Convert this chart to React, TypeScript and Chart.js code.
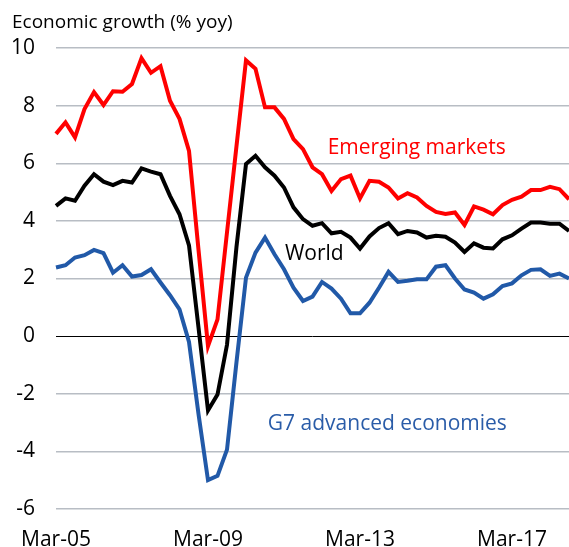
import { useEffect, useRef } from "react";
import { Chart, registerables } from "chart.js";

Chart.register(...registerables);

const FONT = '"Open Sans", "Noto Sans", sans-serif';

const monthNames = ["Mar", "Jun", "Sep", "Dec"];
const startYear = 5;
const quarterCount = 55; // Mar-05 .. Sep-18
const categories: string[] = [];
for (let i = 0; i < quarterCount; i++) {
  const yy = startYear + Math.floor(i / 4);
  categories.push(`${monthNames[i % 4]}-${String(yy).padStart(2, "0")}`);
}
const tickLabels = ["Mar-05", "Mar-09", "Mar-13", "Mar-17"];

const yTicks = [-6, -4, -2, 0, 2, 4, 6, 8, 10];

const emerging = [
  7.02, 7.42, 6.9, 7.88, 8.47, 8.02, 8.5, 8.48, 8.75, 9.65, 9.14, 9.37, 8.17, 7.54, 6.43,
  3.0, -0.35, 0.58, 3.6, 6.6, 9.57, 9.28, 7.94, 7.94, 7.54,
  6.84, 6.49, 5.86, 5.62, 5.04, 5.45, 5.57, 4.78, 5.39, 5.36,
  5.16, 4.78, 4.96, 4.81, 4.52, 4.31, 4.24, 4.29, 3.86, 4.5,
  4.39, 4.23, 4.55, 4.73, 4.84, 5.07, 5.07, 5.18, 5.1, 4.75,
];

const world = [
  4.52, 4.78, 4.7, 5.22, 5.62, 5.36, 5.24, 5.39, 5.33, 5.82, 5.71, 5.62, 4.87, 4.23, 3.15,
  0.3, -2.58, -2.03, -0.3, 3.1, 5.97, 6.26, 5.86, 5.57, 5.16,
  4.47, 4.06, 3.83, 3.92, 3.57, 3.62, 3.42, 3.04, 3.46, 3.75,
  3.92, 3.54, 3.65, 3.6, 3.42, 3.48, 3.45, 3.25, 2.92, 3.22,
  3.07, 3.04, 3.36, 3.5, 3.73, 3.94, 3.94, 3.9, 3.9, 3.65,
];

const g7 = [
  2.38, 2.46, 2.73, 2.81, 2.99, 2.88, 2.2, 2.46, 2.07, 2.12, 2.32, 1.86, 1.42, 0.93, -0.2,
  -2.7, -5.0, -4.85, -3.94, -0.9, 2.03, 2.9, 3.42, 2.84, 2.32,
  1.68, 1.22, 1.37, 1.88, 1.65, 1.3, 0.79, 0.79, 1.16, 1.68,
  2.23, 1.88, 1.92, 1.97, 1.97, 2.41, 2.46, 2.0, 1.62, 1.51,
  1.3, 1.45, 1.74, 1.83, 2.11, 2.3, 2.32, 2.09, 2.17, 2.0,
];

const seriesNames = ["Emerging markets", "World", "G7 advanced economies"];
const seriesColors = ["#ff0000", "#000000", "#2159a8"];
const labelColors = ["#ff0000", "#000000", "#2a5ca8"];
// label anchors in data space: [category index, value at text baseline]
const labelIndex = [28.6, 24.1, 22.3];
const labelValue = [6.32, 2.63, -3.25];

const titleText = "Economic growth (% yoy)";

export default function App() {
  const canvasRef = useRef<HTMLCanvasElement | null>(null);

  useEffect(() => {
    document.body.style.margin = "0";
    const canvas = canvasRef.current;
    if (!canvas) return;

    const textPlugin = {
      id: "textPlugin",
      afterDatasetsDraw(chart: any) {
        const { ctx, scales } = chart;
        const xs = scales.x;
        const ys = scales.y;
        ctx.save();
        ctx.font = `21px ${FONT}`;
        ctx.textAlign = "left";
        ctx.textBaseline = "alphabetic";
        seriesNames.forEach((name, k) => {
          ctx.fillStyle = labelColors[k];
          const x = xs.getPixelForValue(labelIndex[k]);
          const y = ys.getPixelForValue(labelValue[k]);
          ctx.fillText(name, x, y);
        });
        ctx.font = `19px ${FONT}`;
        ctx.fillStyle = "#000";
        ctx.fillText(titleText, 12, 28);
        ctx.restore();
      },
    };

    const chart = new Chart(canvas, {
      type: "line",
      data: {
        labels: categories,
        datasets: [
          { label: seriesNames[0], data: emerging, borderColor: seriesColors[0] },
          { label: seriesNames[1], data: world, borderColor: seriesColors[1] },
          { label: seriesNames[2], data: g7, borderColor: seriesColors[2] },
        ].map((d) => ({
          ...d,
          borderWidth: 4,
          pointRadius: 0,
          tension: 0,
          fill: false,
          borderJoinStyle: "miter" as const,
        })),
      },
      options: {
        responsive: false,
        animation: false,
        layout: { padding: { top: 48, left: 0, right: 0, bottom: 0 } },
        plugins: {
          legend: { display: false },
          title: { display: false },
          tooltip: { enabled: false },
        },
        scales: {
          x: {
            type: "category",
            offset: false,
            grid: { display: false, drawTicks: false },
            border: { display: false },
            ticks: {
              autoSkip: false,
              maxRotation: 0,
              minRotation: 0,
              padding: 18,
              color: "#000",
              font: { size: 21, family: FONT },
              callback: (_v: any, i: number) =>
                tickLabels.includes(categories[i]) ? categories[i] : null,
            },
            afterFit: (s: any) => {
              s.height = 38;
            },
          },
          y: {
            min: -6,
            max: 10,
            afterBuildTicks: (s: any) => {
              s.ticks = yTicks.map((v) => ({ value: v }));
            },
            grid: {
              drawTicks: false,
              color: (c: any) => (c.tick && c.tick.value === 0 ? "#000000" : "#b8bdc4"),
              lineWidth: (c: any) => (c.tick && c.tick.value === 0 ? 1 : 1.5),
            },
            border: { display: false },
            ticks: {
              padding: 21,
              color: "#000",
              font: { size: 21, family: FONT },
            },
            afterFit: (s: any) => {
              s.width = 56;
            },
          },
        },
      },
      plugins: [textPlugin],
    });

    return () => chart.destroy();
  }, []);

  return (
    <div style={{ position: "absolute", left: 0, top: 0, width: 569, height: 547 }}>
      <canvas ref={canvasRef} width={569} height={547} style={{ display: "block" }} />
    </div>
  );
}
